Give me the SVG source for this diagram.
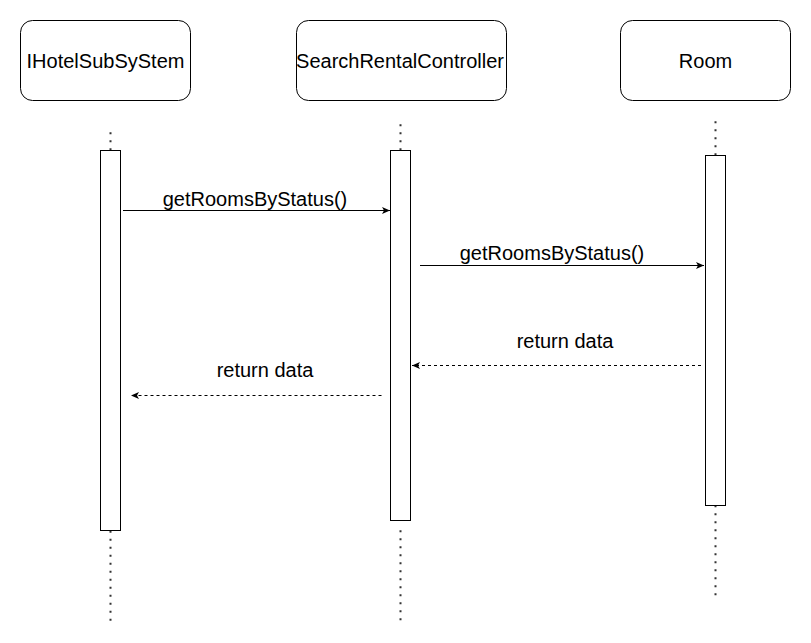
<svg xmlns="http://www.w3.org/2000/svg" width="811" height="643" viewBox="0 0 811 643">
  <style>
    .box { fill: #ffffff; stroke: #000000; stroke-width: 1; }
    .act { fill: #ffffff; stroke: #000000; stroke-width: 1; }
    .life { stroke: #333333; stroke-width: 2; stroke-dasharray: 2 6; fill: none; }
    .lbl { font-family: "Liberation Sans", Arial, sans-serif; font-size: 20px; fill: #000000; text-anchor: middle; }
    .msg { stroke: #000000; stroke-width: 1; fill: none; marker-end: url(#arr); }
    .ret { stroke: #000000; stroke-width: 1; fill: none; stroke-dasharray: 3 3; marker-end: url(#arr); }
  </style>
  <defs>
    <marker id="arr" markerUnits="userSpaceOnUse" markerWidth="10" markerHeight="8" refX="8" refY="3.5" orient="auto">
      <path d="M0,0 L8,3.5 L0,7 L2,3.5 Z" fill="#000000" stroke="none"/>
    </marker>
  </defs>
  <rect width="811" height="643" fill="#ffffff"/>

  <g id="lifelines">
    <line class="life" x1="110.5" y1="132.3" x2="110.5" y2="150"/>
    <line class="life" x1="110.5" y1="530.7" x2="110.5" y2="621"/>
    <line class="life" x1="400.5" y1="124.3" x2="400.5" y2="150"/>
    <line class="life" x1="400.5" y1="530.3" x2="400.5" y2="621"/>
    <line class="life" x1="715.5" y1="121.3" x2="715.5" y2="155"/>
    <line class="life" x1="715.5" y1="505.3" x2="715.5" y2="596"/>
  </g>

  <g id="node-ihotelsubsystem">
    <rect class="box" x="20.5" y="20.5" width="170" height="80" rx="12" ry="12"/>
    <text class="lbl" x="105.5" y="67.5">IHotelSubSyStem</text>
    <rect class="act" x="100.5" y="150.5" width="20" height="380"/>
  </g>

  <g id="node-searchrentalcontroller">
    <rect class="box" x="296.5" y="20.5" width="210" height="80" rx="12" ry="12"/>
    <text class="lbl" x="400" y="67.5">SearchRentalController</text>
    <rect class="act" x="390.5" y="150.5" width="20" height="370"/>
  </g>

  <g id="node-room">
    <rect class="box" x="620.5" y="20.5" width="170" height="80" rx="12" ry="12"/>
    <text class="lbl" x="705.5" y="67.5">Room</text>
    <rect class="act" x="705.5" y="155.5" width="20" height="350"/>
  </g>

  <g id="connectors">
    <line class="msg" x1="123" y1="210.5" x2="390" y2="210.5"/>
    <text class="lbl" x="255" y="205.5">getRoomsByStatus()</text>

    <line class="msg" x1="420" y1="265.5" x2="704" y2="265.5"/>
    <text class="lbl" x="552" y="259.5">getRoomsByStatus()</text>

    <line class="ret" x1="701" y1="365.5" x2="412" y2="365.5"/>
    <text class="lbl" x="565" y="348">return data</text>

    <line class="ret" x1="381.5" y1="395.5" x2="131" y2="395.5"/>
    <text class="lbl" x="265" y="377">return data</text>
  </g>
</svg>
